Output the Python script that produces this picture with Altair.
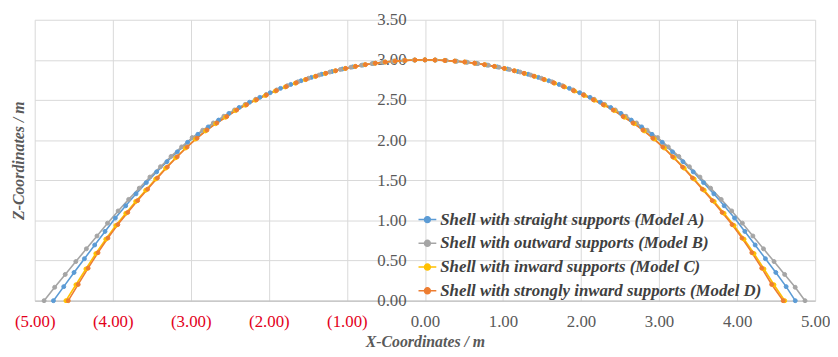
import altair as alt
import pandas as pd

models = [
    "Shell with straight supports (Model A)",
    "Shell with outward supports (Model B)",
    "Shell with inward supports (Model C)",
    "Shell with strongly inward supports (Model D)",
]
colors = ["#5B9BD5", "#A5A5A5", "#FFC000", "#ED7D31"]

x_ticks = [-5, -4, -3, -2, -1, 0, 1, 2, 3, 4, 5]
z_ticks = [0, 0.5, 1.0, 1.5, 2.0, 2.5, 3.0, 3.5]

# Model A (straight supports)
x_a = [-4.760, -4.628, -4.496, -4.363, -4.231, -4.099, -3.967, -3.834, -3.702, -3.570, -3.438, -3.306,
       -3.173, -3.041, -2.909, -2.777, -2.644, -2.512, -2.380, -2.248, -2.116, -1.983, -1.851, -1.719,
       -1.587, -1.454, -1.322, -1.190, -1.058, -0.926, -0.793, -0.661, -0.529, -0.397, -0.264, -0.132,
       0.000,
       0.132, 0.264, 0.397, 0.529, 0.661, 0.793, 0.926, 1.058, 1.190, 1.322, 1.454, 1.587,
       1.719, 1.851, 1.983, 2.116, 2.248, 2.380, 2.512, 2.644, 2.777, 2.909, 3.041, 3.173,
       3.306, 3.438, 3.570, 3.702, 3.834, 3.967, 4.099, 4.231, 4.363, 4.496, 4.628, 4.745]
z_a = [0.000, 0.175, 0.351, 0.523, 0.694, 0.863, 1.029, 1.182, 1.331, 1.471, 1.605, 1.732,
       1.854, 1.973, 2.073, 2.165, 2.250, 2.333, 2.407, 2.472, 2.533, 2.591, 2.645, 2.694,
       2.740, 2.782, 2.821, 2.855, 2.886, 2.913, 2.936, 2.956, 2.972, 2.984, 2.993, 2.998,
       3.000,
       2.998, 2.993, 2.984, 2.972, 2.956, 2.936, 2.913, 2.886, 2.855, 2.821, 2.782, 2.740,
       2.694, 2.645, 2.591, 2.533, 2.472, 2.407, 2.333, 2.250, 2.165, 2.073, 1.973, 1.854,
       1.732, 1.605, 1.471, 1.331, 1.182, 1.029, 0.863, 0.694, 0.523, 0.351, 0.175, 0.000]

# Model B (outward supports)
x_b = [-4.880, -4.744, -4.609, -4.473, -4.338, -4.202, -4.067, -3.931, -3.796, -3.660, -3.524, -3.389,
       -3.253, -3.118, -2.982, -2.847, -2.711, -2.576, -2.440, -2.304, -2.169, -2.033, -1.898, -1.762,
       -1.627, -1.491, -1.356, -1.220, -1.084, -0.949, -0.813, -0.678, -0.542, -0.407, -0.271, -0.136,
       0.000,
       0.136, 0.271, 0.407, 0.542, 0.678, 0.813, 0.949, 1.084, 1.220, 1.356, 1.491, 1.627,
       1.762, 1.898, 2.033, 2.169, 2.304, 2.440, 2.576, 2.711, 2.847, 2.982, 3.118, 3.253,
       3.389, 3.524, 3.660, 3.796, 3.931, 4.067, 4.202, 4.338, 4.473, 4.609, 4.744, 4.870]
z_b = [0.000, 0.167, 0.327, 0.487, 0.646, 0.806, 0.966, 1.118, 1.262, 1.402, 1.540, 1.669,
       1.797, 1.916, 2.032, 2.124, 2.214, 2.298, 2.376, 2.445, 2.509, 2.570, 2.626, 2.679,
       2.727, 2.771, 2.811, 2.848, 2.880, 2.908, 2.933, 2.953, 2.970, 2.983, 2.993, 2.998,
       3.000,
       2.998, 2.993, 2.983, 2.970, 2.953, 2.933, 2.908, 2.880, 2.848, 2.811, 2.771, 2.727,
       2.679, 2.626, 2.570, 2.509, 2.445, 2.376, 2.298, 2.214, 2.124, 2.032, 1.916, 1.797,
       1.669, 1.540, 1.402, 1.262, 1.118, 0.966, 0.806, 0.646, 0.487, 0.327, 0.167, 0.000]

# Model C (inward supports)
x_c = [-4.600, -4.472, -4.344, -4.217, -4.089, -3.961, -3.833, -3.706, -3.578, -3.450, -3.322, -3.194,
       -3.067, -2.939, -2.811, -2.683, -2.556, -2.428, -2.300, -2.172, -2.044, -1.917, -1.789, -1.661,
       -1.533, -1.406, -1.278, -1.150, -1.022, -0.894, -0.767, -0.639, -0.511, -0.383, -0.256, -0.128,
       0.000,
       0.128, 0.256, 0.383, 0.511, 0.639, 0.767, 0.894, 1.022, 1.150, 1.278, 1.406, 1.533,
       1.661, 1.789, 1.917, 2.044, 2.172, 2.300, 2.428, 2.556, 2.683, 2.811, 2.939, 3.067,
       3.194, 3.322, 3.450, 3.578, 3.706, 3.833, 3.961, 4.089, 4.217, 4.344, 4.472, 4.610]
z_c = [0.000, 0.198, 0.395, 0.587, 0.766, 0.937, 1.088, 1.236, 1.376, 1.516, 1.651, 1.780,
       1.902, 2.014, 2.115, 2.205, 2.285, 2.368, 2.435, 2.497, 2.556, 2.612, 2.663, 2.710,
       2.754, 2.794, 2.830, 2.863, 2.892, 2.918, 2.940, 2.958, 2.973, 2.985, 2.993, 2.998,
       3.000,
       2.998, 2.993, 2.985, 2.973, 2.958, 2.940, 2.918, 2.892, 2.863, 2.830, 2.794, 2.754,
       2.710, 2.663, 2.612, 2.556, 2.497, 2.435, 2.368, 2.285, 2.205, 2.115, 2.014, 1.902,
       1.780, 1.651, 1.516, 1.376, 1.236, 1.088, 0.937, 0.766, 0.587, 0.395, 0.198, 0.000]

# Model D (strongly inward supports)
x_d = [-4.570, -4.443, -4.316, -4.189, -4.062, -3.935, -3.808, -3.681, -3.554, -3.428, -3.301, -3.174,
       -3.047, -2.920, -2.793, -2.666, -2.539, -2.412, -2.285, -2.158, -2.031, -1.904, -1.777, -1.650,
       -1.523, -1.396, -1.269, -1.143, -1.016, -0.889, -0.762, -0.635, -0.508, -0.381, -0.254, -0.127,
       0.000,
       0.127, 0.254, 0.381, 0.508, 0.635, 0.762, 0.889, 1.016, 1.143, 1.269, 1.396, 1.523,
       1.650, 1.777, 1.904, 2.031, 2.158, 2.285, 2.412, 2.539, 2.666, 2.793, 2.920, 3.047,
       3.174, 3.301, 3.428, 3.554, 3.681, 3.808, 3.935, 4.062, 4.189, 4.316, 4.443, 4.590]
z_d = [0.000, 0.202, 0.405, 0.598, 0.780, 0.948, 1.100, 1.247, 1.389, 1.528, 1.665, 1.793,
       1.915, 2.024, 2.126, 2.214, 2.294, 2.376, 2.442, 2.504, 2.562, 2.617, 2.667, 2.714,
       2.757, 2.797, 2.833, 2.865, 2.894, 2.919, 2.941, 2.959, 2.974, 2.985, 2.993, 2.998,
       3.000,
       2.998, 2.993, 2.985, 2.974, 2.959, 2.941, 2.919, 2.894, 2.865, 2.833, 2.797, 2.757,
       2.714, 2.667, 2.617, 2.562, 2.504, 2.442, 2.376, 2.294, 2.214, 2.126, 2.024, 1.915,
       1.793, 1.665, 1.528, 1.389, 1.247, 1.100, 0.948, 0.780, 0.598, 0.405, 0.202, 0.000]

rows = []
for m, xs, zs in zip(models, [x_a, x_b, x_c, x_d], [z_a, z_b, z_c, z_d]):
    for i, (xv, zv) in enumerate(zip(xs, zs)):
        rows.append({"model": m, "x": xv, "z": zv, "idx": i})
df = pd.DataFrame(rows)

FONT = "Liberation Serif, DejaVu Serif, serif"
GRAY_TXT = "#595959"
RED_TXT = "#E3001B"
GRID = "#D9D9D9"

sym_path = "M-1,0H1M-0.33,0A0.33,0.33,0,1,1,0.33,0A0.33,0.33,0,1,1,-0.33,0Z"

color_scale = alt.Scale(domain=models, range=colors)

legend = alt.Legend(
    title=None, orient="none", legendX=387, legendY=192,
    symbolType=sym_path, symbolSize=324, symbolStrokeWidth=1.5, symbolOpacity=1,
    labelFont=FONT, labelFontSize=17, labelFontWeight="bold", labelFontStyle="italic",
    labelColor="#404040", labelOffset=3, labelLimit=600, rowPadding=6, padding=0,
)

x_enc = alt.X(
    "x:Q",
    scale=alt.Scale(domain=[-5, 5], nice=False, zero=False),
    axis=alt.Axis(
        values=x_ticks,
        labelExpr="datum.value < 0 ? '(' + format(-datum.value, '.2f') + ')' : format(datum.value, '.2f')",
        labelColor={"condition": {"test": "datum.value < 0", "value": RED_TXT}, "value": GRAY_TXT},
        labelFont=FONT, labelFontSize=17, labelPadding=13, labelFlush=False, labelOverlap=False,
        ticks=False, domainColor="#BFBFBF", domainWidth=1.2,
        gridColor=GRID, gridWidth=1,
        title="X-Coordinates / m", titleFont=FONT, titleFontSize=16, titleFontWeight="bold",
        titleFontStyle="italic", titleColor=GRAY_TXT, titlePadding=4,
    ),
)
y_enc = alt.Y(
    "z:Q",
    scale=alt.Scale(domain=[0, 3.5], nice=False),
    axis=alt.Axis(
        values=z_ticks, format=".2f", orient="left", offset=-394.5,
        domain=False, ticks=False, tickSize=0, labelPadding=19,
        labelFont=FONT, labelFontSize=17, labelColor=GRAY_TXT,
        gridColor=GRID, gridWidth=1,
        title="Z-Coordinates / m", titleFont=FONT, titleFontSize=16, titleFontWeight="bold",
        titleFontStyle="italic", titleColor=GRAY_TXT, titleX=-402.5,
    ),
)

lines = alt.Chart(df).mark_line(strokeWidth=1.6).encode(
    x=x_enc, y=y_enc,
    stroke=alt.Stroke("model:N", scale=color_scale, sort=models, legend=legend),
    detail="model:N",
    order="idx:Q",
)
points = alt.Chart(df).mark_point(filled=True, size=16, opacity=1, strokeWidth=1).encode(
    x=x_enc, y=y_enc,
    fill=alt.Fill("model:N", scale=color_scale, sort=models, legend=legend),
    stroke=alt.Stroke("model:N", scale=color_scale, sort=models, legend=legend),
)

chart = alt.layer(lines, points).properties(
    width=789, height=284,
    padding={"left": 3, "top": 1, "right": 0, "bottom": 0},
    background="white",
).configure_view(stroke=None)

chart.save("out.html", embed_options={"renderer": "svg", "actions": False})
